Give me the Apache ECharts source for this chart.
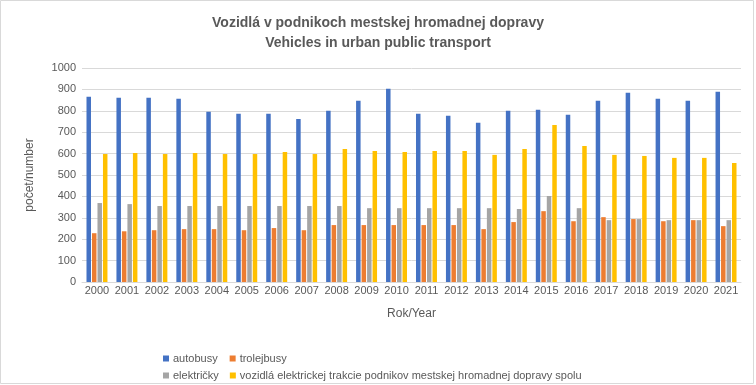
<!DOCTYPE html>
<html>
<head>
<meta charset="utf-8">
<script src="https://cdn.jsdelivr.net/npm/echarts@6/dist/echarts.min.js"></script>
<style>
html,body{margin:0;padding:0;background:#fff;}
#c{width:756px;height:385px;}
</style>
</head>
<body>
<div id="c"></div>
<script>
var years = ['2000','2001','2002','2003','2004','2005','2006','2007','2008','2009','2010','2011','2012','2013','2014','2015','2016','2017','2018','2019','2020','2021'];
var autobusy   = [866,861,861,856,795,786,786,762,800,847,903,786,777,744,800,805,781,847,884,856,847,889];
var trolejbusy = [228,237,242,247,247,242,252,242,266,266,266,266,266,247,280,331,284,303,294,284,289,261];
var elektricky = [369,364,355,355,355,355,355,355,355,345,345,345,345,345,341,402,345,289,294,289,289,289];
var spolu      = [598,603,598,603,598,598,608,598,622,612,608,612,612,594,622,734,636,594,589,580,580,556];
var yTicks = [0,100,200,300,400,500,600,700,800,900,1000];

var names = ['autobusy','trolejbusy','električky','vozidlá elektrickej trakcie podnikov mestskej hromadnej dopravy spolu'];
var colors = ['#4472C4','#ED7D31','#A5A5A5','#FFC000'];
var values = [autobusy, trolejbusy, elektricky, spolu];
var font = 'Liberation Sans';
var txt = '#595959';

var chart = echarts.init(document.getElementById('c'));
var legendBase = {
  left: 163, padding: 0, itemWidth: 6, itemHeight: 6, itemGap: 12, icon: 'rect',
  selectedMode: false,
  textStyle: { color: txt, fontFamily: font, fontSize: 11, padding: [0,0,0,-1] }
};
chart.setOption({
  animation: false,
  color: colors,
  textStyle: { fontFamily: font },
  title: {
    text: 'Vozidlá v podnikoch mestskej hromadnej dopravy\nVehicles in urban public transport',
    left: 'center', top: 8,
    textStyle: { color: txt, fontFamily: font, fontSize: 14, fontWeight: 'bold', lineHeight: 20 }
  },
  graphic: [{ type: 'rect', shape: { x: 0.5, y: 0.5, width: 753, height: 383 },
    style: { fill: 'none', stroke: '#D9D9D9', lineWidth: 1 }, silent: true }],
  legend: [
    Object.assign({}, legendBase, { top: 353, data: [names[0], names[1]] }),
    Object.assign({}, legendBase, { top: 370, itemGap: 11, data: [names[2], names[3]] })
  ],
  grid: { left: 82, right: 15, top: 68, bottom: 103 },
  xAxis: {
    type: 'category', data: years,
    name: 'Rok/Year', nameLocation: 'middle', nameGap: 26,
    nameTextStyle: { color: txt, fontFamily: font, fontSize: 12 },
    axisLine: { lineStyle: { color: '#D9D9D9' } },
    axisTick: { show: false },
    axisLabel: { color: txt, fontFamily: font, fontSize: 11, margin: 3, interval: 0 }
  },
  yAxis: {
    type: 'value', min: yTicks[0], max: yTicks[yTicks.length - 1], interval: 100,
    name: 'počet/number', nameLocation: 'middle', nameGap: 46, nameRotate: 90,
    nameTextStyle: { color: txt, fontFamily: font, fontSize: 12 },
    axisLine: { show: false }, axisTick: { show: false },
    splitLine: { lineStyle: { color: '#D9D9D9' } },
    axisLabel: { color: txt, fontFamily: font, fontSize: 11, margin: 6,
      formatter: function (v) { return String(v); } }
  },
  series: names.map(function (n, i) {
    return { name: n, type: 'bar', data: values[i], barWidth: 4.5, barGap: '22%',
      itemStyle: { color: colors[i] } };
  })
});
</script>
</body>
</html>
